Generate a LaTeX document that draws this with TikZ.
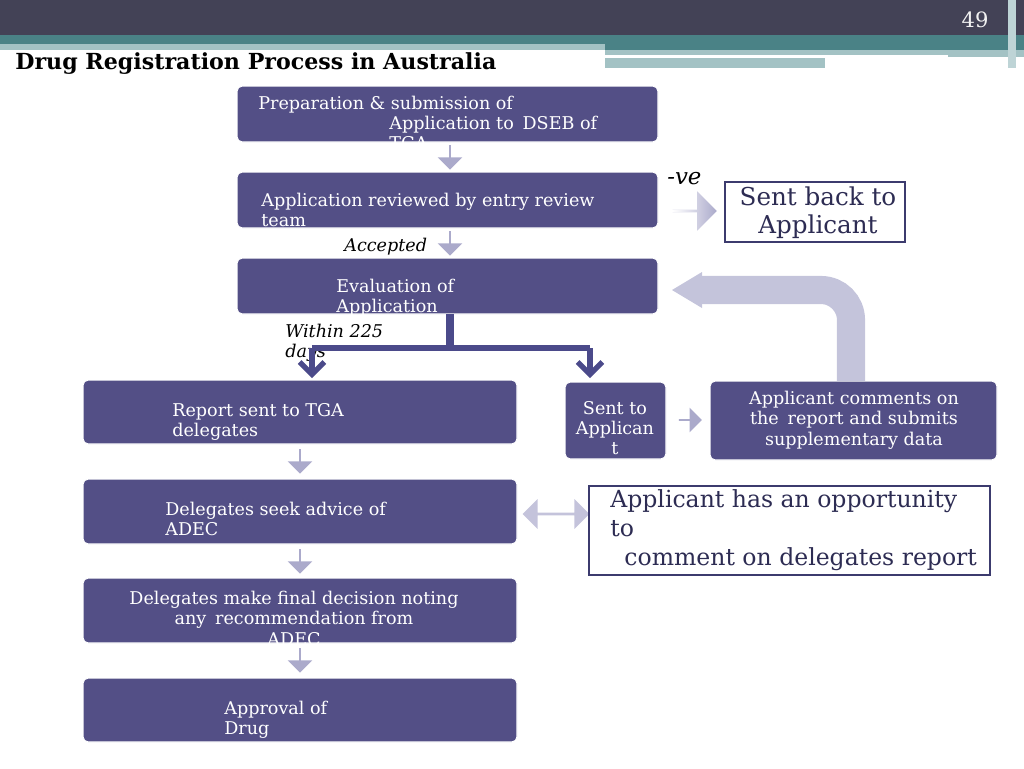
\documentclass[tikz,border=0pt]{standalone}
\usepackage{fontspec}
\setmainfont{DejaVu Serif}
\usetikzlibrary{shapes.arrows,arrows.meta}
\definecolor{boxfill}{HTML}{534F86}
\definecolor{linkcol}{HTML}{4B4A8A}
\definecolor{arrowfill}{HTML}{ABAACB}
\definecolor{headdark}{HTML}{434256}
\definecolor{headteal}{HTML}{4A8286}
\definecolor{headlight}{HTML}{A3C2C4}
\tikzset{
  stepbox/.style={draw=white,fill=boxfill,rounded corners=3pt,line width=0.6pt},
  steptext/.style={text=white,font=\fontsize{10}{11.5}\selectfont,align=left,anchor=north west,inner sep=0pt},
  note/.style={draw=linkcol!80!black,fill=white,line width=1pt},
  downarrow/.style={single arrow,fill=arrowfill,shape border rotate=270,minimum width=14pt,single arrow head extend=3pt,minimum height=14pt,inner sep=0pt},
  rightarrow/.style={single arrow,fill=arrowfill,minimum width=14pt,single arrow head extend=3pt,minimum height=13pt,inner sep=0pt},
  lab/.style={font=\itshape\fontsize{10}{11}\selectfont,align=left,anchor=north west,inner sep=0pt}
}
\begin{document}
\begin{tikzpicture}[x=0.02cm,y=-0.02cm]
\useasboundingbox (0,0) rectangle (1024,768);
% header
\fill[headdark] (0,0) rectangle (1024,35);
\fill[headteal] (0,35) rectangle (1024,50);
\fill[headlight] (0,44) rectangle (605,50);
\fill[headlight] (605,50) rectangle (1024,57);
\fill[white] (605,55) rectangle (948,57);
\fill[headlight] (605,58) rectangle (825,68);
\fill[headlight!70!white] (1008,0) rectangle (1016,68);
\node[text=white!90!gray,font=\fontsize{12}{12}\selectfont] (pnum) at (975,20) {49};
\node[anchor=west,inner sep=0pt,font=\bfseries\fontsize{12.6}{14}\selectfont] (title) at (15,64) {Drug Registration Process in Australia};
% main column
\draw[stepbox] (237,86) rectangle (658,142);
\node[steptext] (prep) at (258,96) {Preparation \& submission of};
\node[steptext] (prep2) at (389,116) {Application to\enspace DSEB of\\TGA};
\draw[stepbox] (237,172) rectangle (658,228);
\node[steptext] (review) at (261,193) {Application reviewed by entry review\\team};
\draw[stepbox] (237,258) rectangle (658,314);
\node[steptext] (eval) at (336,279) {Evaluation of\\Application};
\node[downarrow] (d1) at (450,157) {};
\node[downarrow] (d2) at (450,243) {};
% rejection
\node[rightarrow,minimum height=25pt,minimum width=22pt,left color=white,right color=arrowfill] (r1) at (694,211) {};
\draw[note] (725,182) rectangle (905,242);
\node[font=\fontsize{14}{16}\selectfont,align=center,text=linkcol!60!black] (back) at (818,213) {Sent back to\\Applicant};
\node[lab,font=\itshape\fontsize{13}{14}\selectfont] (neg) at (667,172) {-ve};
\node[lab] (acc) at (344,238) {Accepted};
\node[lab] (days) at (285,324) {Within 225\\days};
% split
\coordinate (s0) at (450,314);
\coordinate (s1) at (450,348);
\coordinate (sl) at (312,348);
\coordinate (sr) at (590,348);
\draw[linkcol,line width=4pt] (s0) -- (s1);
\draw[linkcol,line width=3pt] (sl) -- (sr);
\draw[linkcol,line width=3pt,-{Straight Barb[length=7pt,width=14pt]}] (sl) -- (312,378);
\draw[linkcol,line width=3pt,-{Straight Barb[length=7pt,width=14pt]}] (sr) -- (590,378);
% left column
\draw[stepbox] (83,380) rectangle (517,444);
\node[steptext] (report) at (172,403) {Report sent to TGA\\delegates};
\draw[stepbox] (83,479) rectangle (517,544);
\node[steptext] (advice) at (165,502) {Delegates seek advice of\\ADEC};
\draw[stepbox] (83,578) rectangle (517,643);
\node[steptext,align=center,anchor=north] (final) at (294,591) {Delegates make final decision noting\\any\enspace recommendation from\\ADEC};
\draw[stepbox] (83,678) rectangle (517,742);
\node[steptext] (approval) at (224,701) {Approval of\\Drug};
\node[downarrow] (d3) at (300,461) {};
\node[downarrow] (d4) at (300,561) {};
\node[downarrow] (d5) at (300,660) {};
% right branch
\draw[stepbox] (565,382) rectangle (666,459);
\node[steptext,align=center,anchor=north] (sent) at (615,401) {Sent to\\Applican\\t};
\node[rightarrow] (r2) at (690,420) {};
\draw[stepbox] (710,381) rectangle (997,460);
\node[steptext,align=center,anchor=north] (comments) at (854,391) {Applicant comments on\\the\enspace report and submits\\supplementary data};
\draw[arrowfill!70!white,line width=16pt] (851,381) -- (851,320) arc (0:-90:30) -- (700,290);
\fill[arrowfill!70!white] (672,290) -- (702,272) -- (702,308) -- cycle;
% opportunity
\node[double arrow,fill=arrowfill!70!white,minimum width=17pt,double arrow head extend=2pt,inner sep=0pt,minimum height=38pt] (dd) at (556,514) {};
\draw[note] (589,486) rectangle (990,575);
\node[font=\fontsize{13.4}{16.5}\selectfont,align=left,anchor=north west,inner sep=0pt,text=linkcol!60!black] (opp) at (610,489) {Applicant has an opportunity\\to\\\hspace*{8pt}comment on delegates report};
\end{tikzpicture}
\end{document}
